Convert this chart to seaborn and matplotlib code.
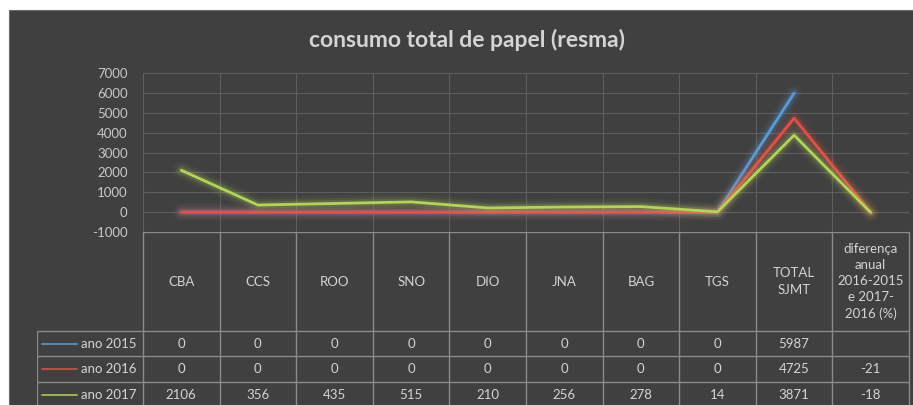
import numpy as np
import pandas as pd
import matplotlib
matplotlib.use("Agg")
import matplotlib.pyplot as plt
import matplotlib.patheffects as pe
from matplotlib.patches import Rectangle
import seaborn as sns

# --- data ---
categories = ['CBA', 'CCS', 'ROO', 'SNO', 'DIO', 'JNA', 'BAG', 'TGS', 'TOTAL\nSJMT',
              'diferença\nanual\n2016-2015\ne 2017-\n2016 (%)']
ano_2015 = [0, 0, 0, 0, 0, 0, 0, 0, 5987, None]
ano_2016 = [0, 0, 0, 0, 0, 0, 0, 0, 4725, -21]
ano_2017 = [2106, 356, 435, 515, 210, 256, 278, 14, 3871, -18]
series_names = ['ano 2015', 'ano 2016', 'ano 2017']
series_vals = [ano_2015, ano_2016, ano_2017]
y_ticks = list(range(-1000, 8000, 1000))

colors = {'ano 2015': '#5b9bd5', 'ano 2016': '#e0504a', 'ano 2017': '#b3d35a'}
BG = '#404040'
TXT = '#d4d4d4'
GRID = '#5e5e5e'
BORDER = '#8a8a8a'

sns.set_theme(style='dark')
plt.rcParams['font.family'] = ['Lato', 'DejaVu Sans']

rows = []
for name, vals in zip(series_names, series_vals):
    for i, v in enumerate(vals):
        rows.append({'pos': i, 'valor': v, 'serie': name})
df = pd.DataFrame(rows).dropna()

W, H = 913, 405
fig = plt.figure(figsize=(W / 100, H / 100), dpi=100)
fig.patch.set_facecolor('white')
fig.patches.append(Rectangle((9 / W, 0), 1, (H - 10) / H, transform=fig.transFigure,
                             facecolor=BG, edgecolor='#6a6a6a', lw=0.8, zorder=-10))

fig.text(467 / W, 1 - 40 / H, 'consumo total de papel (resma)', ha='center', va='center',
         fontsize=16.5, fontweight='bold', color=TXT)

# plot area in pixels
x0, x1, y_top, y_bot = 143, 909, 73, 232
col_w = (x1 - x0) / len(categories)
ax = fig.add_axes([x0 / W, 1 - y_bot / H, (x1 - x0) / W, (y_bot - y_top) / H])
ax.set_facecolor('none')

sns.lineplot(data=df, x='pos', y='valor', hue='serie', palette=colors, ax=ax,
             lw=2, legend=False, sort=False, estimator=None)

for line, name in zip(ax.lines, series_names):
    c = colors[name]
    line.set_path_effects([pe.Stroke(linewidth=12, foreground=c, alpha=0.05),
                           pe.Stroke(linewidth=8, foreground=c, alpha=0.09),
                           pe.Stroke(linewidth=5, foreground=c, alpha=0.16),
                           pe.Normal()])

ax.set_xlim(-0.5, len(categories) - 0.5)
ax.set_ylim(-1000, 7000)
ax.set_xticks(np.arange(-0.5, len(categories), 1))
ax.set_xticklabels([])
ax.set_yticks(y_ticks)
ax.set_yticklabels([str(t) for t in y_ticks])
ax.grid(True, color=GRID, lw=0.8)
ax.tick_params(length=0, colors='#c8c8c8', labelsize=9.5, pad=11)
ax.set_xlabel('')
ax.set_ylabel('')
for s in ax.spines.values():
    s.set_visible(False)

# --- data table ---
lab_left = 37
tab = fig.add_axes([lab_left / W, 0, (x1 - lab_left) / W, (H - y_bot) / H])
tab.set_xlim(lab_left, x1)
tab.set_ylim(H, y_bot)
tab.axis('off')

row_edges = [232, 331, 356, 382, 407]
col_edges = [x0 + k * col_w for k in range(len(categories) + 1)]

for xe in col_edges:
    tab.plot([xe, xe], [row_edges[0], H], color=BORDER, lw=1, clip_on=False)
tab.plot([lab_left, lab_left], [row_edges[1], H], color=BORDER, lw=1)
tab.plot([x0, x1], [row_edges[0], row_edges[0]], color=BORDER, lw=1)
for ye in row_edges[1:4]:
    tab.plot([lab_left, x1], [ye, ye], color=BORDER, lw=1)

hdr_y = (row_edges[0] + row_edges[1]) / 2
for k, cat in enumerate(categories):
    cx = x0 + (k + 0.5) * col_w
    tab.text(cx, hdr_y, cat, ha='center', va='center', fontsize=9.5, color=TXT,
             linespacing=1.42)

for r, (name, vals) in enumerate(zip(series_names, series_vals)):
    cy = (row_edges[r + 1] + row_edges[r + 2]) / 2
    tab.plot([42, 77], [cy, cy], color=colors[name], lw=1.3, alpha=0.85)
    tab.text(136, cy, name, ha='right', va='center', fontsize=9.5, color=TXT)
    for k, v in enumerate(vals):
        cx = x0 + (k + 0.5) * col_w
        tab.text(cx, cy, '' if v is None else str(v), ha='center', va='center',
                 fontsize=9.5, color=TXT)

plt.savefig('out.png', dpi=100, facecolor=fig.get_facecolor())
plt.close()
